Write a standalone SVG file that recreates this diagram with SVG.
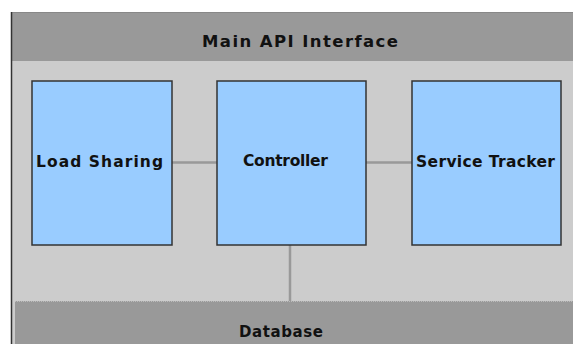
<svg xmlns="http://www.w3.org/2000/svg" width="573" height="344" viewBox="0 0 573 344">
<style>
.band{fill:#999999}
.body{fill:#cccccc}
.box{fill:#99ccff;stroke:#333333;stroke-width:1.5}
.lbl{font-family:"DejaVu Sans",Verdana,sans-serif;font-weight:bold;fill:#111111;font-size:15.5px}
.conn{stroke:#999999;stroke-width:2.5;fill:none}
</style>
<rect x="0" y="0" width="573" height="344" fill="#ffffff"/>
<g id="main-api">
<rect class="body" x="11" y="12" width="562" height="332"/>
<rect class="band" x="11" y="12" width="562" height="49"/>
<line x1="11" y1="12.5" x2="573" y2="12.5" stroke="#888888" stroke-width="1"/>
<line x1="11.5" y1="12" x2="11.5" y2="344" stroke="#333333" stroke-width="1.5"/>
<text class="lbl" x="202" y="47" textLength="196" lengthAdjust="spacing" style="font-size:16.5px;font-weight:600">Main API Interface</text>
</g>
<g id="connectors">
<line class="conn" x1="172" y1="162.5" x2="217" y2="162.5"/>
<line class="conn" x1="366" y1="162.5" x2="412" y2="162.5"/>
<line class="conn" x1="290" y1="245" x2="290" y2="301"/>
</g>
<g id="load-sharing">
<rect class="box" x="32" y="81" width="140" height="164"/>
<text class="lbl" x="36" y="167" textLength="127" lengthAdjust="spacing">Load Sharing</text>
</g>
<g id="controller">
<rect class="box" x="217" y="81" width="149" height="164"/>
<text class="lbl" x="243" y="166" textLength="85" lengthAdjust="spacing">Controller</text>
</g>
<g id="service-tracker">
<rect class="box" x="412" y="81" width="149" height="164"/>
<text class="lbl" x="416" y="167" textLength="139" lengthAdjust="spacing">Service Tracker</text>
</g>
<g id="database">
<rect class="band" x="15" y="301" width="558" height="43"/>
<line x1="15" y1="301.5" x2="573" y2="301.5" stroke="#bbbbbb" stroke-width="1" stroke-dasharray="1,1"/>
<text class="lbl" x="239" y="337" textLength="84" lengthAdjust="spacing" style="font-size:15px">Database</text>
</g>
</svg>
